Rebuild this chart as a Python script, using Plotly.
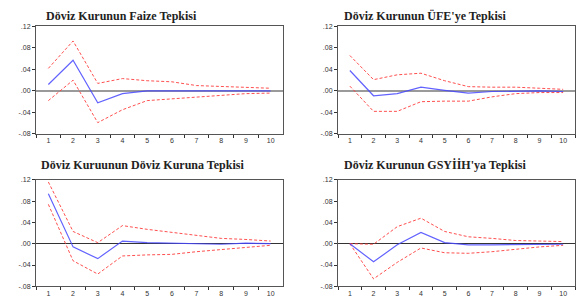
import plotly.graph_objects as go

periods = ["1", "2", "3", "4", "5", "6", "7", "8", "9", "10"]

titles = [
    "Döviz Kurunun Faize Tepkisi",
    "Döviz Kurunun ÜFE'ye Tepkisi",
    "Döviz Kuruunun Döviz Kuruna Tepkisi",
    "Döviz Kurunun GSYİİH'ya Tepkisi",
]

faiz_resp = [0.012, 0.057, -0.022, -0.005, 0.0, 0.0, 0.0, 0.0, 0.0, 0.0]
faiz_up = [0.042, 0.093, 0.014, 0.023, 0.019, 0.017, 0.010, 0.008, 0.007, 0.005]
faiz_lo = [-0.018, 0.020, -0.059, -0.035, -0.018, -0.015, -0.012, -0.008, -0.005, -0.004]

ufe_resp = [0.038, -0.009, -0.005, 0.007, 0.001, -0.004, -0.001, 0.0, 0.0, -0.001]
ufe_up = [0.066, 0.021, 0.030, 0.033, 0.019, 0.008, 0.007, 0.007, 0.005, 0.003]
ufe_lo = [0.009, -0.038, -0.038, -0.020, -0.019, -0.019, -0.011, -0.005, -0.003, -0.003]

kur_resp = [0.094, -0.006, -0.028, 0.005, 0.002, 0.001, -0.001, -0.001, 0.001, 0.0]
kur_up = [0.116, 0.023, 0.002, 0.034, 0.027, 0.021, 0.015, 0.010, 0.008, 0.005]
kur_lo = [0.074, -0.032, -0.057, -0.023, -0.021, -0.020, -0.015, -0.011, -0.006, -0.003]

gsyh_resp = [0.0, -0.034, -0.002, 0.021, 0.002, -0.002, -0.002, -0.002, -0.001, -0.001]
gsyh_up = [0.0, -0.001, 0.032, 0.048, 0.023, 0.013, 0.010, 0.006, 0.005, 0.004]
gsyh_lo = [0.0, -0.066, -0.035, -0.008, -0.017, -0.018, -0.015, -0.010, -0.006, -0.003]

y_tickvals = [0.12, 0.08, 0.04, 0.0, -0.04, -0.08]
y_ticktext = [".12", ".08", ".04", ".00", "-.04", "-.08"]

W, H = 584, 302
# plot areas in pixels: (x0, x1, ytop, ybottom)
areas = [(36, 283, 23, 133), (338, 575, 23, 133), (36, 283, 180, 289), (338, 575, 180, 289)]
title_pos = [(121, 12), (425, 12), (142, 165), (435, 165)]
zero_style = [("#9a9a9a", 2), ("#9a9a9a", 2), ("#333333", 1), ("#333333", 1)]

series = [
    (faiz_resp, faiz_up, faiz_lo),
    (ufe_resp, ufe_up, ufe_lo),
    (kur_resp, kur_up, kur_lo),
    (gsyh_resp, gsyh_up, gsyh_lo),
]

fig = go.Figure()
annotations = []
for i, ((resp, up, lo), (x0, x1, yt, yb)) in enumerate(zip(series, areas)):
    xa = "x" if i == 0 else f"x{i+1}"
    ya = "y" if i == 0 else f"y{i+1}"
    for vals, color, dash, width in [
        (up, "rgba(255,60,60,0.9)", "3px,2px", 1),
        (lo, "rgba(255,60,60,0.9)", "3px,2px", 1),
        (resp, "rgba(70,70,255,0.85)", "solid", 1.2),
    ]:
        fig.add_trace(go.Scatter(
            x=periods, y=vals, mode="lines", xaxis=xa, yaxis=ya,
            line=dict(color=color, dash=dash, width=width),
            showlegend=False, hoverinfo="skip",
        ))
    zc, zw = zero_style[i]
    xkey = "xaxis" if i == 0 else f"xaxis{i+1}"
    ykey = "yaxis" if i == 0 else f"yaxis{i+1}"
    fig.update_layout(**{
        xkey: dict(
            domain=[x0 / W, x1 / W], anchor=ya, type="category",
            categoryorder="array", categoryarray=periods,
            range=[-0.5, 9.5], tickson="boundaries",
            ticks="outside", ticklen=3, tickcolor="#333",
            showline=True, linecolor="#555", linewidth=1, mirror=True,
            showgrid=False, zeroline=False,
            tickfont=dict(family="Liberation Sans", size=7, color="#333"),
        ),
        ykey: dict(
            domain=[1 - yb / H, 1 - yt / H], anchor=xa,
            range=[-0.08, 0.12], tickvals=y_tickvals, ticktext=y_ticktext,
            ticks="outside", ticklen=3, tickcolor="#333",
            showline=True, linecolor="#555", linewidth=1, mirror=True,
            showgrid=False, zeroline=True, zerolinecolor=zc, zerolinewidth=zw,
            tickfont=dict(family="Liberation Sans", size=7, color="#333"),
        ),
    })
    tx, ty = title_pos[i]
    annotations.append(dict(
        text=f"<b>{titles[i]}</b>", x=tx / W, y=1 - ty / H,
        xref="paper", yref="paper", showarrow=False,
        xanchor="center", yanchor="middle",
        font=dict(family="Liberation Serif", size=12, color="#222"),
    ))

fig.update_layout(
    width=W, height=H, margin=dict(l=0, r=0, t=0, b=0),
    paper_bgcolor="white", plot_bgcolor="white",
    annotations=annotations,
)
fig.write_html(
    "out.html",
    config={"displayModeBar": False},
    post_script="document.body.style.margin='0';document.body.style.overflow='hidden';",
)
